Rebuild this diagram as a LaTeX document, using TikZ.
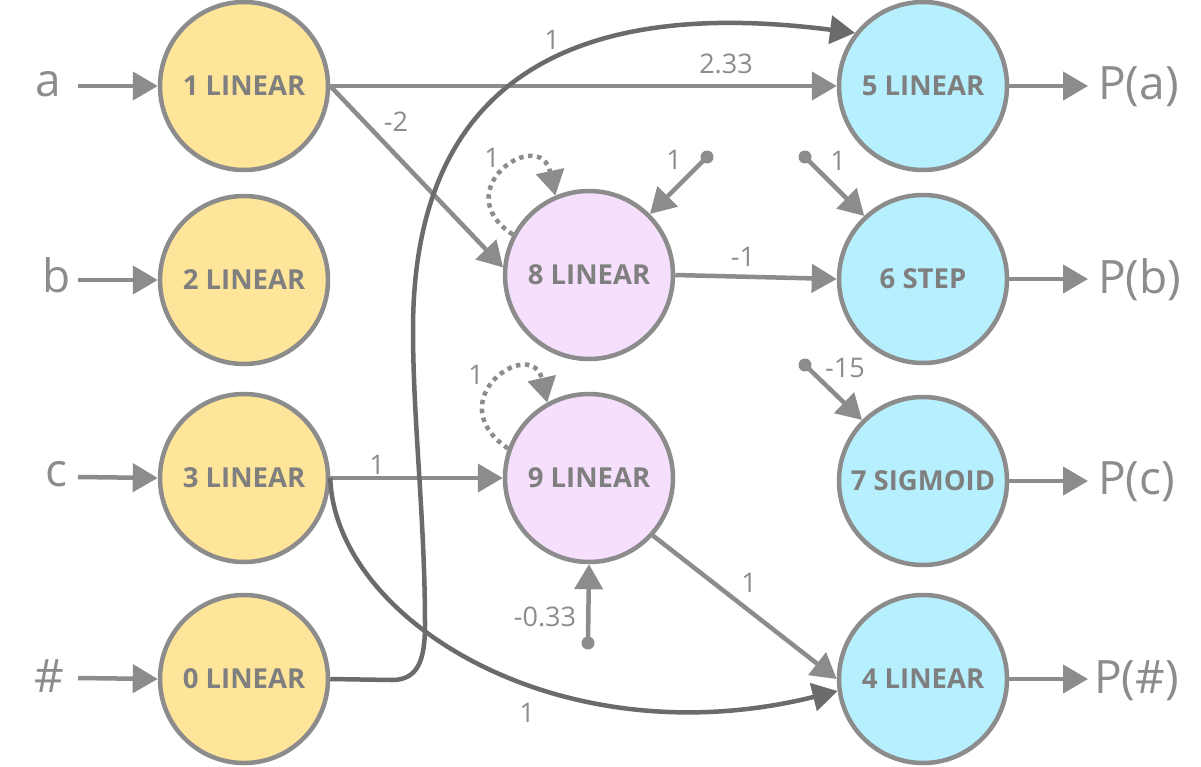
\documentclass[tikz,border=0pt]{standalone}
\usepackage{fontspec}
\setmainfont{Open Sans}
\usetikzlibrary{arrows.meta}
\definecolor{lg}{HTML}{8C8C8C}
\definecolor{dg}{HTML}{6B6B6B}
\definecolor{yel}{HTML}{FFE599}
\definecolor{pnk}{HTML}{F5DFFD}
\definecolor{cyn}{HTML}{B6EFFD}
\definecolor{txt}{HTML}{7F7F7F}
\begin{document}
\begin{tikzpicture}[x=1pt,y=-1pt,
  neuron/.style={circle,draw=lg,line width=4.5pt,minimum size=168pt,inner sep=0pt,
    font=\fontsize{27.5}{27.5}\selectfont\bfseries,text=txt},
  inn/.style={neuron,fill=yel},
  hid/.style={neuron,fill=pnk},
  outn/.style={neuron,fill=cyn},
  conn/.style={draw=lg,line width=4.5pt,-{Triangle[length=25pt,width=28pt]}},
  dconn/.style={conn,draw=dg},
  loope/.style={conn,dash pattern=on 4.5pt off 4.5pt},
  wlab/.style={font=\fontsize{27}{27}\selectfont,text=lg,inner sep=0pt},
  io/.style={font=\fontsize{46}{46}\selectfont,text=lg,inner sep=0pt}]
\fill[white] (0,0) rectangle (1201,766);
\useasboundingbox (0,0) rectangle (1201,766);

% neurons
\node[inn] (n1) at (244,86) {1 LINEAR};
\node[inn] (n2) at (244,280) {2 LINEAR};
\node[inn] (n3) at (244,478) {3 LINEAR};
\node[inn] (n0) at (244,679) {0 LINEAR};
\node[hid] (n8) at (589,275) {8 LINEAR};
\node[hid] (n9) at (589,478) {9 LINEAR};
\node[outn] (n5) at (923,86) {5 LINEAR};
\node[outn] (n6) at (923,279) {6 STEP};
\node[outn] (n7) at (923,481) {7 SIGMOID};
\node[outn] (n4) at (923,679) {4 LINEAR};

% inputs
\node[io] (ia) at (48,84) {a};
\node[io] (ib) at (57,275) {b};
\node[io] (ic) at (56,474) {c};
\node[io] (ih) at (49,676) {\#};
\coordinate (sa) at (78,86);
\coordinate (sb) at (78,280);
\coordinate (sc) at (78,477);
\coordinate (sh) at (78,678);
\draw[conn] (sa) -- (n1.west);
\draw[conn] (sb) -- (n2.west);
\draw[conn] (sc) -- (n3.west);
\draw[conn] (sh) -- (n0.west);

% outputs
\coordinate (oa) at (1088,86);
\coordinate (ob) at (1088,279);
\coordinate (oc) at (1088,481);
\coordinate (oh) at (1088,679);
\draw[conn] (n5.east) -- (oa);
\draw[conn] (n6.east) -- (ob);
\draw[conn] (n7.east) -- (oc);
\draw[conn] (n4.east) -- (oh);
\node[io,anchor=base west] (pa) at (1098,99) {P(a)};
\node[io,anchor=base west] (pb) at (1098,293) {P(b)};
\node[io,anchor=base west] (pc) at (1098,494) {P(c)};
\node[io,anchor=base west] (ph) at (1094,693) {P(\#)};

% connections
\draw[conn] (n1.east) -- (n5.west);
\node[wlab] (l15) at (726,64) {2.33};
\draw[conn] (n1.east) -- (n8.175);
\node[wlab] (l18) at (396,122) {-2};
\draw[conn] (n8.east) -- (n6.west);
\node[wlab] (l86) at (743,257) {-1};
\draw[conn] (n3.east) -- (n9.west);
\node[wlab] (l39) at (377,465) {1};
\draw[conn] (n9.-42) -- (n4.west);
\node[wlab] (l94) at (749,583) {1};

% dark curves
\draw[dconn] (n0.east) -- (392,680) .. controls (418,680) and (425,660) .. (425,625)
  .. controls (425,520) and (413,420) .. (413,330)
  .. controls (413,90) and (560,-5) .. (n5.142);
\node[wlab] (l05) at (552,40) {1};
\draw[dconn] (n3.east) .. controls (335,620) and (560,760) .. (n4.188);
\node[wlab] (l34) at (527,713) {1};

% self loops
\draw[loope] (n8.152) .. controls (445,190) and (540,125) .. (n8.113);
\node[wlab] (l88) at (492,158) {1};
\draw[loope] (n9.160) .. controls (437,400) and (532,335) .. (n9.119);
\node[wlab] (l99) at (476,375) {1};

% biases
\coordinate (b8) at (707,157);
\coordinate (b6) at (805,157);
\coordinate (b7) at (805,365);
\coordinate (b9) at (588,643);
\fill[lg] (b8) circle (6.5);
\fill[lg] (b6) circle (6.5);
\fill[lg] (b7) circle (6.5);
\fill[lg] (b9) circle (6.5);
\draw[conn] (b8) -- (n8.45);
\draw[conn] (b6) -- (n6.133);
\draw[conn] (b7) -- (n7.135);
\draw[conn] (b9) -- (n9.south);
\node[wlab] (lb8) at (674,160) {1};
\node[wlab] (lb6) at (838,161) {1};
\node[wlab] (lb7) at (845,368) {-15};
\node[wlab] (lb9) at (545,617) {-0.33};
\end{tikzpicture}
\end{document}
